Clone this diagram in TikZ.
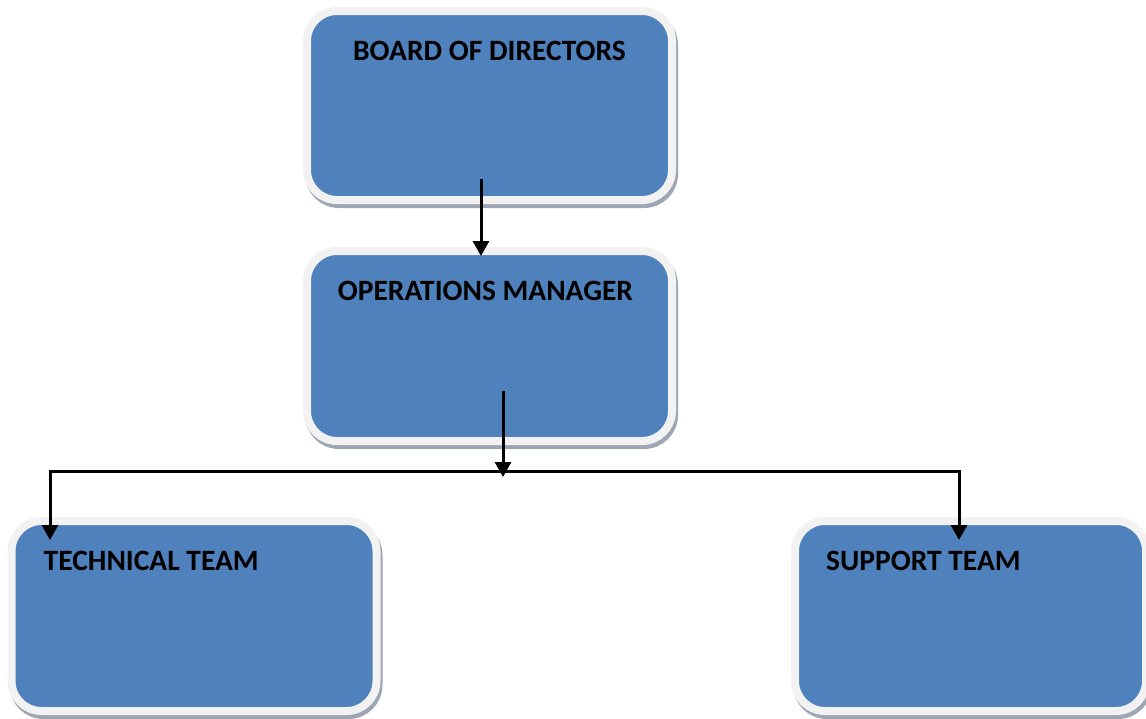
\documentclass[tikz,border=0pt]{standalone}
\usepackage{fontspec}
\setmainfont{Carlito}
\usepackage{tikz}
\usetikzlibrary{positioning, arrows.meta, shadows}
\definecolor{boxblue}{HTML}{4F81BD}
\definecolor{boxrim}{HTML}{F2F2F2}
\definecolor{rimshadow}{HTML}{9EA6B4}
\tikzset{
    x=1pt, y=-1pt, % one unit is one pixel of the layout, y grows downwards
    unit/.style={rectangle, rounded corners=30pt, fill=boxblue, draw=boxrim,
        line width=8pt, inner sep=0pt, outer sep=0pt,
        minimum width=365pt, minimum height=190pt,
        drop shadow={shadow xshift=2pt, shadow yshift=-4pt, fill=rimshadow, draw=rimshadow, opacity=1}}, % blue box with light rim
    heading/.style={font=\fontsize{29.5}{31}\selectfont\bfseries, inner sep=0pt}, % box titles
    link/.style={-{Triangle[width=16pt,length=15pt]}, line width=3pt}, % directed connectors
    bar/.style={line width=3pt, line cap=rect}, % the horizontal split line
}
\begin{document}
\begin{tikzpicture}
\useasboundingbox (0,0) rectangle (1146,718);
\node[unit, minimum height=189pt]  (board)   at (489.5,105.5) {};
\node[unit, below=51pt of board]   (ops)     {};
\node[unit]                        (tech)    at (194,616) {};
\node[unit, minimum width=351pt]   (support) at (970.5,616) {};
% titles
\node[heading, anchor=base] (boardtitle) at ([yshift=-49pt]board.north) {BOARD OF DIRECTORS};
\node[heading, anchor=base] (opstitle) at ([xshift=-4pt, yshift=-49pt]ops.north) {OPERATIONS MANAGER};
\node[heading, anchor=base west] (techtitle) at ([xshift=32pt, yshift=-49pt]tech.north west) {TECHNICAL TEAM};
\node[heading, anchor=base west] (supporttitle) at ([xshift=31pt, yshift=-49pt]support.north west) {SUPPORT TEAM};
% connectors
\coordinate (boardtail) at (481,179);
\coordinate (opstail)   at (503,391);
\coordinate (busjoin)   at (503,471);
\coordinate (busleft)   at (50,471);
\coordinate (busright)  at (959,471);
\draw[link, shorten >=-5pt] (boardtail) -- (boardtail |- ops.north);
\draw[link, shorten >=-6pt] (opstail) -- (busjoin);
\draw[bar] (busleft) -- (busright);
\draw[link, shorten >=-19pt] (busleft) -- (busleft |- tech.north);
\draw[link, shorten >=-19pt] (busright) -- (busright |- support.north);
\end{tikzpicture}
\end{document}
